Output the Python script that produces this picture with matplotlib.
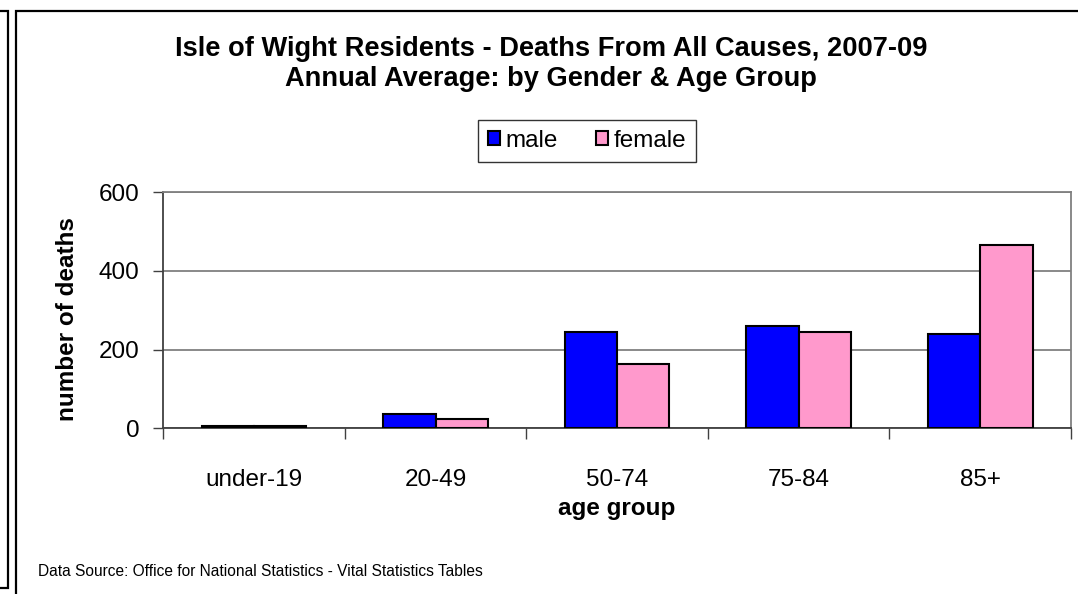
import matplotlib.pyplot as plt
import numpy as np
from matplotlib.patches import Rectangle

plt.rcParams['font.family'] = ['Liberation Sans', 'DejaVu Sans']

age_groups = ["under-19", "20-49", "50-74", "75-84", "85+"]
male = [6, 36, 244, 260, 240]
female = [5, 24, 163, 245, 465]
y_ticks = [0, 200, 400, 600]

W, H = 1078, 594
fig = plt.figure(figsize=(W / 100, H / 100), dpi=100)

# frames drawn in pixel coords
def px_rect(x0, y0, x1, y1):
    return Rectangle((x0 / W, 1 - y1 / H), (x1 - x0) / W, (y1 - y0) / H,
                     transform=fig.transFigure, fill=False, edgecolor='black',
                     linewidth=1.6, clip_on=False)

fig.add_artist(px_rect(-20, 11, 8, 588))
fig.add_artist(px_rect(16, 11, 1100, 620))

ax = fig.add_axes([163.3 / W, 1 - 428.3 / H, (1071 - 163.3) / W, (428.3 - 192.3) / H])

x = np.arange(len(age_groups))
w = 0.288
ax.bar(x - w / 2, male, w, color='#0000FF', edgecolor='black', linewidth=1.5,
       label='male', zorder=3)
ax.bar(x + w / 2, female, w, color='#FF99CC', edgecolor='black', linewidth=1.5,
       label='female', zorder=3)

ax.set_xlim(-0.5, len(age_groups) - 0.5)
ax.set_ylim(0, 600)
ax.set_yticks(y_ticks)
ax.yaxis.grid(True, color='#808080', linewidth=1.3, zorder=0)
ax.set_xticks(np.arange(-0.5, len(age_groups), 1.0))
ax.set_xticklabels([])
ax.set_xticks(x, minor=True)
ax.set_xticklabels(age_groups, minor=True, fontsize=17.5)
ax.tick_params(axis='x', which='major', length=8, width=1, color='#404040', direction='out')
ax.tick_params(axis='x', which='minor', length=0, pad=29)
ax.tick_params(axis='y', length=7, width=1, color='#404040', labelsize=17.5, pad=10)

for s in ['top', 'right']:
    ax.spines[s].set_color('#808080')
    ax.spines[s].set_linewidth(1.3)
for s in ['left', 'bottom']:
    ax.spines[s].set_color('#404040')
    ax.spines[s].set_linewidth(1.3)

fig.text(617 / W, 1 - 509 / H, 'age group', ha='center', va='center',
         fontsize=17.5, fontweight='bold')
fig.text(68 / W, 1 - 319 / H, 'number of deaths', ha='center', va='center',
         rotation=90, fontsize=17.5, fontweight='bold')

fig.text(551 / W, 1 - 49 / H, 'Isle of Wight Residents - Deaths From All Causes, 2007-09',
         ha='center', va='center', fontsize=19.6, fontweight='bold')
fig.text(551 / W, 1 - 79 / H, 'Annual Average: by Gender & Age Group',
         ha='center', va='center', fontsize=19.6, fontweight='bold')

leg = fig.legend(loc='center', bbox_to_anchor=(587 / W, 1 - 141 / H), ncol=2,
                 fontsize=17.5, frameon=True, fancybox=False, edgecolor='black',
                 handlelength=0.5, handleheight=0.5, handletextpad=0.2,
                 columnspacing=1.6, borderpad=0.4)
leg.get_frame().set_linewidth(1.0)

fig.text(38 / W, 1 - 571 / H, 'Data Source: Office for National Statistics - Vital Statistics Tables',
         ha='left', va='center', fontsize=11.2)

fig.savefig('out.png', dpi=100)
